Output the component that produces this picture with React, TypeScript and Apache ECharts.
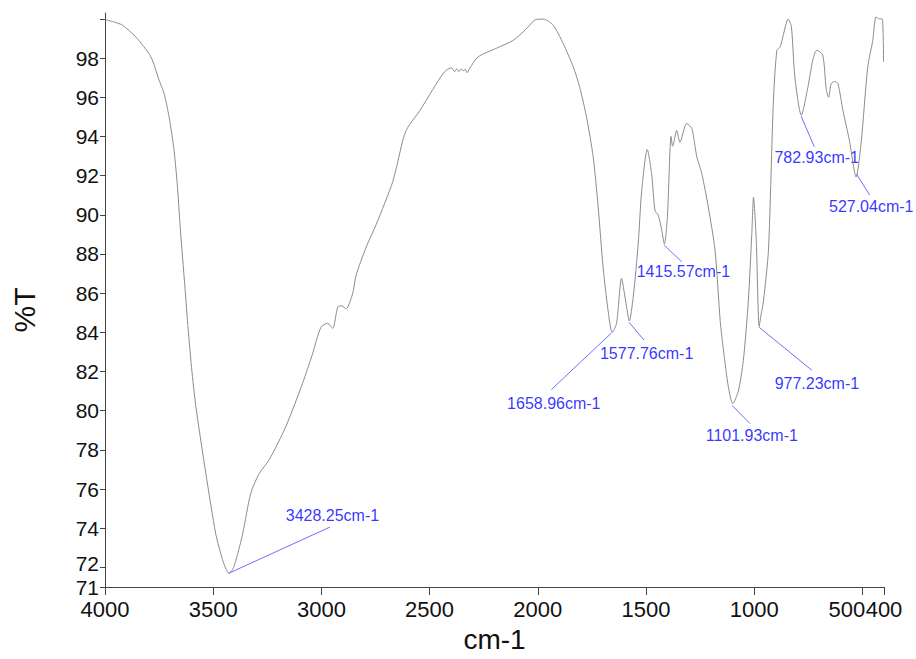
import React, { useEffect, useRef } from "react";
import * as echarts from "echarts";

// Spectrum (wavenumber cm-1, %T)
const wavenumbers = [
  4000, 3960, 3920, 3858, 3788, 3750, 3727, 3704, 3681, 3665, 3650, 3627, 3619, 3600, 3580, 3534, 3488, 3457, 3440, 3428,
  3410, 3395, 3364, 3326, 3287, 3241, 3164, 3087, 3041, 3002, 2971, 2948, 2924, 2905, 2886, 2855, 2840, 2793, 2747, 2700,
  2670, 2647, 2624, 2608, 2593, 2546, 2485, 2431, 2400, 2384, 2375, 2365, 2355, 2345, 2335, 2327, 2315, 2276, 2191, 2114,
  2052, 2014, 1975, 1929, 1883, 1836, 1806, 1775, 1744, 1721, 1698, 1675, 1656, 1636, 1613, 1594, 1577, 1559, 1536, 1520,
  1494, 1474, 1458, 1443, 1427, 1415, 1401, 1384, 1377, 1358, 1343, 1312, 1288, 1265, 1242, 1212, 1181, 1157, 1142, 1119,
  1099, 1073, 1050, 1027, 1011, 1003, 990, 977, 968, 957, 934, 911, 895, 880, 867, 843, 828, 812, 782, 752,
  729, 711, 683, 667, 656, 644, 628, 613, 590, 560, 529, 506, 475, 452, 437, 421, 408, 402,
];
const transmittance = [
  99.97, 99.85, 99.68, 99.08, 98.06, 96.87, 96.2, 95.0, 93.3, 91.4, 89.0, 85.8, 84.6, 82.2, 80.2, 76.8, 73.7, 72.4, 71.9, 71.7,
  71.9, 72.36, 73.7, 75.8, 76.8, 77.5, 79.2, 81.4, 82.9, 84.26, 84.46, 84.2, 85.3, 85.35, 85.2, 86.0, 86.9, 88.35, 89.5, 90.8,
  91.7, 92.7, 93.8, 94.3, 94.6, 95.3, 96.4, 97.3, 97.5, 97.3, 97.45, 97.3, 97.45, 97.35, 97.42, 97.25, 97.47, 98.06, 98.5, 98.9,
  99.5, 99.94, 99.99, 99.68, 98.75, 97.55, 96.5, 95.0, 92.96, 90.4, 87.3, 85.1, 84.0, 84.45, 86.75, 85.6, 84.58, 85.8, 88.5, 91.2,
  93.33, 92.1, 90.2, 89.98, 89.2, 88.5, 89.9, 94.0, 93.5, 94.3, 93.7, 94.66, 94.4, 92.96, 92.1, 90.4, 88.2, 84.6, 83.1, 81.2,
  80.36, 81.0, 82.57, 85.6, 89.0, 90.9, 88.6, 84.3, 84.9, 85.6, 88.2, 95.85, 98.4, 98.57, 99.1, 100.0, 99.6, 97.04, 95.08, 96.5,
  97.9, 98.4, 98.15, 96.4, 96.0, 96.7, 96.8, 96.7, 95.34, 93.8, 91.93, 93.64, 97.55, 98.9, 100.1, 100.0, 100.0, 97.8,
];

// Peak annotations
const peakLabels = ["3428.25cm-1", "1658.96cm-1", "1577.76cm-1", "1415.57cm-1", "1101.93cm-1", "977.23cm-1", "782.93cm-1", "527.04cm-1"];
const peakWn = [3428.25, 1658.96, 1577.76, 1415.57, 1101.93, 977.23, 782.93, 527.04];
const peakT = [71.7, 83.97, 84.51, 88.45, 80.27, 84.26, 95.03, 92.08];
const leaderEndWn = [2960, 1937, 1509, 1335, 1019, 733, 722, 466];
const leaderEndT = [74.06, 81.08, 83.6, 87.6, 79.34, 82.06, 93.47, 91.0];
const labelWn = [2949, 1926, 1497, 1327, 1011, 710, 711, 459];
const labelT = [74.66, 80.39, 82.9, 87.08, 78.74, 81.38, 92.93, 90.4];

// Axis ticks
const xTicks = [4000, 3500, 3000, 2500, 2000, 1500, 1000, 500, 400];
const yLabelTicks = [72, 74, 76, 78, 80, 82, 84, 86, 88, 90, 92, 94, 96, 98];
const yMinLabel = [71];
const yTickMarks = [71, 72, 74, 76, 78, 80, 82, 84, 86, 88, 90, 92, 94, 96, 98, 100];

const FONT = "'Liberation Sans', Arial, sans-serif";
const Y_MIN = 71;
const Y_MAX = 100.3;

export default function App() {
  const ref = useRef<HTMLDivElement>(null);
  useEffect(() => {
    if (!ref.current) return;
    const chart = echarts.init(ref.current, null, { renderer: "svg" });
    const spectrum = wavenumbers.map((w, i) => [w, transmittance[i]]);
    const leaders = peakWn.map((w, i) => [
      { coord: [w, peakT[i]] },
      { coord: [leaderEndWn[i], leaderEndT[i]] },
    ]);
    const labels = labelWn.map((w, i) => [w, labelT[i], peakLabels[i]]);
    const yLabelStyle = { fontSize: 21, color: "#111", fontFamily: FONT, margin: 6 };
    chart.setOption({
      animation: false,
      backgroundColor: "#ffffff",
      grid: { left: 105, right: 32, top: 13, bottom: 72 },
      xAxis: {
        type: "value",
        inverse: true,
        min: 400,
        max: 4000,
        name: "cm-1",
        nameLocation: "middle",
        nameGap: 38,
        nameTextStyle: { fontSize: 28, color: "#111", fontFamily: FONT },
        axisLine: { show: true, onZero: false, lineStyle: { color: "#444", width: 1 } },
        axisTick: { show: true, length: 8, customValues: xTicks, lineStyle: { color: "#444" } },
        axisLabel: {
          customValues: xTicks,
          showMinLabel: true,
          showMaxLabel: true,
          fontSize: 22,
          color: "#111",
          fontFamily: FONT,
          margin: 11,
          formatter: (v: number) => (v === 500 ? "{s|500}" : String(v)),
          rich: { s: { fontSize: 22, color: "#111", fontFamily: FONT, padding: [0, 31, 0, 0] } },
        },
        splitLine: { show: false },
      },
      yAxis: [
        {
          type: "value",
          min: Y_MIN,
          max: Y_MAX,
          name: "%T",
          nameLocation: "middle",
          nameGap: 66,
          nameTextStyle: { fontSize: 30, color: "#111", fontFamily: FONT, padding: [0, 20, 0, 0] },
          axisLine: { show: true, lineStyle: { color: "#444", width: 1 } },
          axisTick: { show: true, length: 5, customValues: yTickMarks, lineStyle: { color: "#444" } },
          axisLabel: {
            customValues: yLabelTicks,
            ...yLabelStyle,
            formatter: (v: number) => (v === 72 ? "{u|72}" : String(v)),
            rich: { u: { fontSize: 21, color: "#111", fontFamily: FONT, padding: [0, 0, 8, 0] } },
          },
          splitLine: { show: false },
        },
        {
          type: "value",
          position: "left",
          min: Y_MIN,
          max: Y_MAX,
          axisLine: { show: false },
          axisTick: { show: false },
          axisLabel: { customValues: yMinLabel, showMinLabel: true, ...yLabelStyle },
          splitLine: { show: false },
        },
      ],
      series: [
        {
          type: "line",
          data: spectrum,
          showSymbol: false,
          smooth: 0.25,
          lineStyle: { color: "#8c8c8c", width: 1 },
          silent: true,
          markLine: {
            silent: true,
            symbol: ["none", "none"],
            label: { show: false },
            lineStyle: { color: "#6f6fff", width: 1, type: "solid" },
            data: leaders,
          },
        },
        {
          type: "scatter",
          data: labels,
          symbolSize: 1,
          itemStyle: { color: "transparent" },
          silent: true,
          label: {
            show: true,
            position: "inside",
            formatter: (p: any) => p.data[2],
            fontSize: 16,
            color: "#0000ff",
            fontFamily: FONT,
          },
        },
      ],
    });
    return () => chart.dispose();
  }, []);
  return <div ref={ref} style={{ position: "absolute", left: 0, top: 0, width: 916, height: 659 }} />;
}
